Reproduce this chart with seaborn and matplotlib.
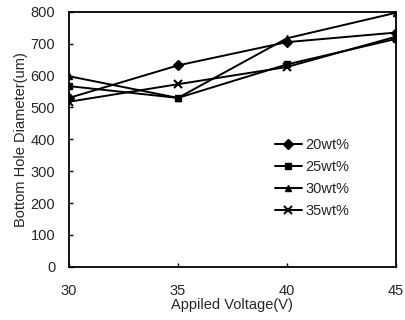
import matplotlib
matplotlib.use("Agg")
import matplotlib.pyplot as plt
import seaborn as sns
import pandas as pd

voltage = [30, 35, 40, 45]
wt20 = [530, 632, 705, 735]
wt25 = [567, 530, 635, 715]
wt30 = [598, 530, 717, 797]
wt35 = [518, 573, 627, 722]
series_names = ['20wt%', '25wt%', '30wt%', '35wt%']
x_ticks = [30, 35, 40, 45]
y_ticks = [0, 100, 200, 300, 400, 500, 600, 700, 800]

df = pd.DataFrame({
    'Voltage': voltage * 4,
    'Diameter': wt20 + wt25 + wt30 + wt35,
    'Serie': [s for s in series_names for _ in voltage],
})

sns.set_theme(style="ticks")
plt.rcParams['font.family'] = ['Liberation Sans', 'DejaVu Sans']

fig = plt.figure(figsize=(4.06, 3.2), dpi=100)
ax = fig.add_axes([0.170, 0.166, 0.805, 0.797])

marcadores = ['D', 's', '^', 'x']
for nome, mk in zip(series_names, marcadores):
    sub = df[df['Serie'] == nome]
    sns.lineplot(data=sub, x='Voltage', y='Diameter', marker=mk, color='black',
                 markersize=5 if mk != 'x' else 6, linewidth=1.4,
                 markeredgecolor='black', markeredgewidth=1.5 if mk == 'x' else 1,
                 label=nome, ax=ax)

ax.set_xlim(30, 45)
ax.set_ylim(0, 800)
ax.set_xticks(x_ticks)
ax.set_yticks(y_ticks)
ax.tick_params(axis='both', labelsize=10.5, direction='in', length=3, width=1,
               color='black')
ax.tick_params(axis='y', pad=10)
ax.tick_params(axis='x', pad=12)
ax.set_xlabel('Appiled Voltage(V)', fontsize=10.5, labelpad=0)
ax.set_ylabel('Bottom Hole Diameter(um)', fontsize=10.5, labelpad=2)
for sp in ax.spines.values():
    sp.set_visible(True)
    sp.set_color('black')
    sp.set_linewidth(1.3)

leg = ax.legend(loc='center left', bbox_to_anchor=(0.59, 0.347), frameon=False,
                fontsize=10.5, handlelength=1.85, handletextpad=0.25, labelspacing=0.55)

fig.savefig('out.png', dpi=100)
